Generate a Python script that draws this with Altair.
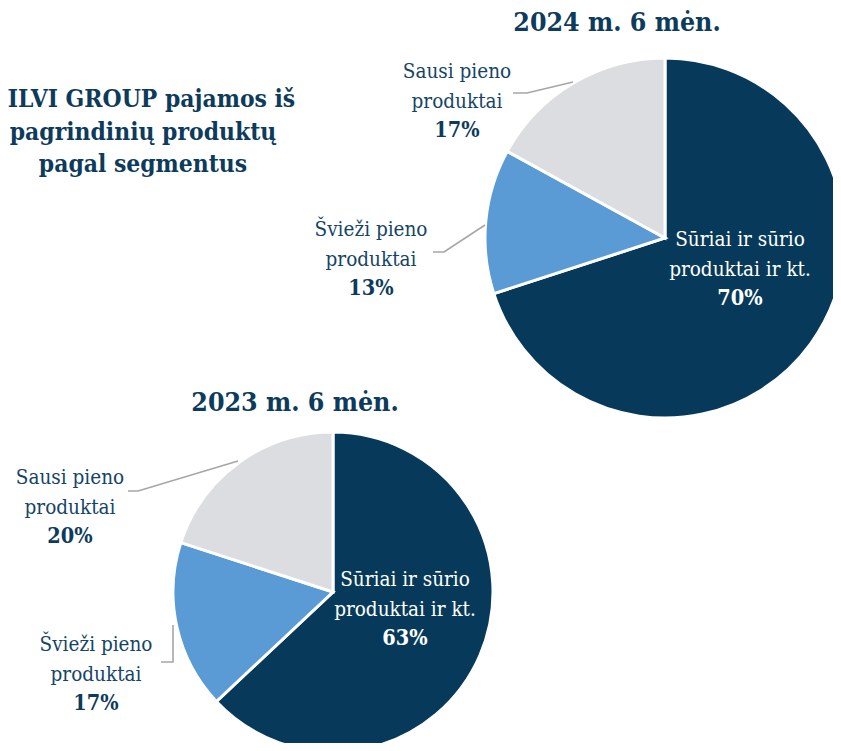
import altair as alt
import pandas as pd

# ---- data ----
segments = ["Sūriai ir sūrio produktai ir kt.", "Švieži pieno produktai", "Sausi pieno produktai"]
segment_lines = [["Sūriai ir sūrio", "produktai ir kt."], ["Švieži pieno", "produktai"], ["Sausi pieno", "produktai"]]
values_2024 = [70, 13, 17]
values_2023 = [63, 17, 20]
periods = ["2024 m. 6 mėn.", "2023 m. 6 mėn."]
title_lines = ["VILVI GROUP pajamos iš", "pagrindinių produktų", "pagal segmentus"]

# ---- style / layout ----
colors = ["#073a5a", "#5b9bd5", "#dcdde0"]
text_color = "#154566"
bold_color = "#0d3b5c"
line_color = "#a6a6a6"
FONT = "DejaVu Serif Condensed, DejaVu Serif"
W, H = 825, 735
M = 8  # page margin

def px(v):
    return v - M

layout = {
    "2024 m. 6 mėn.": dict(cx=665, cy=238, r=180, tx=617, ty=23,
                           labels=[(740, 240), (371, 230), (457, 72)],
                           label_colors=["white", text_color, text_color],
                           leaders={1: [(433, 252), (444, 252), (485, 225)],
                                    2: [(513, 93), (527, 93), (573, 82)]}),
    "2023 m. 6 mėn.": dict(cx=333, cy=592, r=160, tx=295, ty=403,
                           labels=[(405, 580), (96, 645), (70, 478)],
                           label_colors=["white", text_color, text_color],
                           leaders={1: [(161, 662), (173, 662), (173, 625)],
                                    2: [(128, 491), (138, 491), (238, 461)]}),
}
LINE_H = 29.5

xs = alt.Scale(domain=[0, W], range=[0, W], nice=False, zero=False)
ys = alt.Scale(domain=[0, H], range=[0, H], nice=False, zero=False)

layers = []
label_rows, pct_rows, leader_rows, head_rows = [], [], [], []
for period, vals in zip(periods, [values_2024, values_2023]):
    L = layout[period]
    df = pd.DataFrame({"segment": segments, "value": vals, "ord": [0, 1, 2]})
    layers.append(
        alt.Chart(df).mark_arc(outerRadius=L["r"], stroke="white", strokeWidth=3)
        .encode(
            theta=alt.Theta("value:Q", stack=True),
            color=alt.Color("segment:N", scale=alt.Scale(domain=segments, range=colors), legend=None),
            order=alt.Order("ord:Q"),
            x=alt.value(px(L["cx"])),
            y=alt.value(px(L["cy"])),
        )
    )
    head_rows.append(dict(t=period, x=px(L["tx"]), y=px(L["ty"])))
    for i, (seg, v) in enumerate(zip(segments, vals)):
        lx, ly = L["labels"][i]
        for j, line in enumerate(segment_lines[i]):
            label_rows.append(dict(t=line, x=px(lx), y=px(ly + j * LINE_H), c=L["label_colors"][i]))
        pct_rows.append(dict(t=f"{v}%", x=px(lx), y=px(ly + 2 * LINE_H), c="white" if i == 0 else bold_color))
        if i in L["leaders"]:
            for k, (a, b) in enumerate(L["leaders"][i]):
                leader_rows.append(dict(g=f"{period}-{i}", k=k, x=px(a), y=px(b)))

leaders = alt.Chart(pd.DataFrame(leader_rows)).mark_line(color=line_color, strokeWidth=1.6).encode(
    x=alt.X("x:Q", scale=xs, axis=None), y=alt.Y("y:Q", scale=ys, axis=None),
    detail="g:N", order="k:Q")

labels = alt.Chart(pd.DataFrame(label_rows)).mark_text(font=FONT, fontSize=20.5, baseline="middle", align="center").encode(
    x=alt.X("x:Q", scale=xs, axis=None), y=alt.Y("y:Q", scale=ys, axis=None), text="t:N",
    color=alt.Color("c:N", scale=None))

pcts = alt.Chart(pd.DataFrame(pct_rows)).mark_text(font=FONT, fontSize=21.5, fontWeight="bold", baseline="middle", align="center").encode(
    x=alt.X("x:Q", scale=xs, axis=None), y=alt.Y("y:Q", scale=ys, axis=None), text="t:N",
    color=alt.Color("c:N", scale=None))

heads = alt.Chart(pd.DataFrame(head_rows)).mark_text(font=FONT, fontSize=26.5, fontWeight="bold", baseline="middle", align="center", color=bold_color).encode(
    x=alt.X("x:Q", scale=xs, axis=None), y=alt.Y("y:Q", scale=ys, axis=None), text="t:N")

title_df = pd.DataFrame({"t": title_lines, "x": [px(143)] * 3, "y": [px(100), px(133), px(165)]})
title = alt.Chart(title_df).mark_text(font=FONT, fontSize=24.4, fontWeight="bold", baseline="middle", align="center", color=bold_color).encode(
    x=alt.X("x:Q", scale=xs, axis=None), y=alt.Y("y:Q", scale=ys, axis=None), text="t:N")

chart = alt.layer(*layers, leaders, labels, pcts, heads, title).properties(
    width=W, height=H, padding=0, autosize=alt.AutoSizeParams(type="none")
).configure_view(stroke=None)

chart.save("out.html", embed_options={"renderer": "svg", "actions": False})
